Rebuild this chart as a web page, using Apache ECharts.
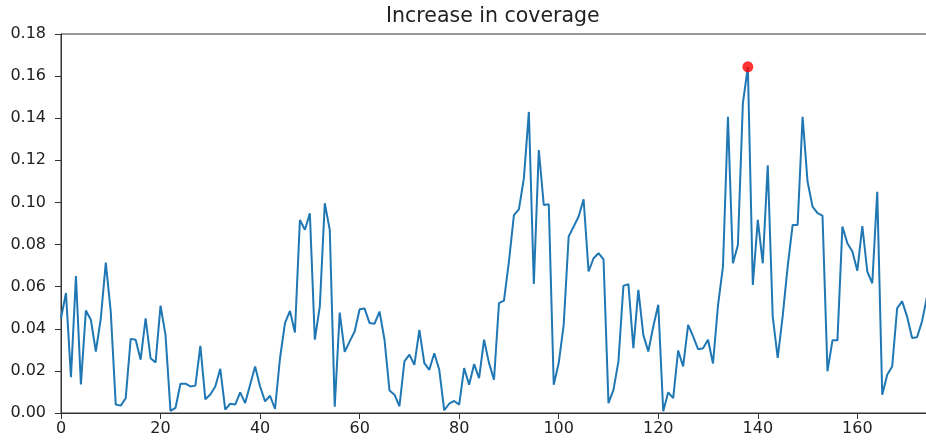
<!DOCTYPE html>
<html>
<head>
<meta charset="utf-8">
<script src="https://cdn.jsdelivr.net/npm/echarts@6/dist/echarts.min.js"></script>
<style>
  html, body { margin: 0; padding: 0; background: #fff; }
  #chart { width: 926px; height: 443px; }
</style>
</head>
<body>
<div id="chart"></div>
<script>
// Coverage gain per step
const steps = Array.from({ length: 175 }, (_, i) => i);
const coverageGain = [
  0.045, 0.057, 0.017, 0.065, 0.0136, 0.0487, 0.0443, 0.0292, 0.045, 0.0714,
  0.048, 0.004, 0.0035, 0.007, 0.0352, 0.0348, 0.0253, 0.045, 0.026, 0.024,
  0.051, 0.037, 0.001, 0.0024, 0.0139, 0.0139, 0.0126, 0.013, 0.0319, 0.0065,
  0.0088, 0.0126, 0.021, 0.0016, 0.0044, 0.004, 0.0098, 0.0047, 0.0134, 0.0221,
  0.0126, 0.0055, 0.0082, 0.0019, 0.026, 0.0427, 0.0485, 0.0382, 0.0917, 0.087,
  0.0948, 0.0348, 0.0506, 0.0996, 0.087, 0.003, 0.0477, 0.029, 0.034, 0.0387,
  0.0493, 0.0496, 0.0427, 0.0424, 0.0482, 0.0348, 0.0107, 0.0087, 0.0032, 0.0245,
  0.0277, 0.0229, 0.0395, 0.0237, 0.0205, 0.0284, 0.0205, 0.0013, 0.0044, 0.0057,
  0.004, 0.0213, 0.0134, 0.0232, 0.0166, 0.0348, 0.0237, 0.0158, 0.0522, 0.0534,
  0.072, 0.094, 0.0967, 0.1114, 0.143, 0.0613, 0.1249, 0.0988, 0.0991, 0.0134,
  0.0237, 0.0419, 0.0838, 0.0885, 0.0933, 0.1015, 0.0672, 0.0735, 0.0759, 0.073,
  0.0047, 0.011, 0.0245, 0.0604, 0.0612, 0.0308, 0.0585, 0.0371, 0.0292, 0.0411,
  0.0514, 0.0008, 0.0098, 0.0071, 0.0297, 0.0221, 0.0419, 0.0364, 0.0303, 0.0308,
  0.0348, 0.0235, 0.051, 0.0695, 0.1407, 0.0711, 0.0798, 0.147, 0.1644, 0.0608,
  0.0917, 0.0711, 0.1177, 0.0458, 0.0262, 0.046, 0.0695, 0.0893, 0.0893, 0.1407,
  0.1098, 0.098, 0.0949, 0.0937, 0.0198, 0.0345, 0.0345, 0.0885, 0.0806, 0.0767,
  0.0676, 0.0888, 0.0672, 0.0616, 0.1051, 0.0087, 0.0182, 0.0221, 0.0498, 0.053,
  0.0458, 0.0356, 0.036, 0.0435, 0.0553
];
const yTicks = [0, 0.02, 0.04, 0.06, 0.08, 0.10, 0.12, 0.14, 0.16, 0.18];
const xTicks = [0, 20, 40, 60, 80, 100, 120, 140, 160];

// Highest gain gets highlighted
let bestIdx = 0;
coverageGain.forEach((v, i) => { if (v > coverageGain[bestIdx]) bestIdx = i; });

const font = 'DejaVu Sans';
const axisColor = '#333';

const chart = echarts.init(document.getElementById('chart'), null, { renderer: 'canvas' });
chart.setOption({
  animation: false,
  backgroundColor: '#fff',
  title: {
    text: 'Increase in coverage',
    left: 386,
    top: 6,
    padding: 0,
    textStyle: { fontFamily: font, fontSize: 20.5, fontWeight: 'normal', color: '#222' }
  },
  grid: {
    left: 61, top: 34, width: 871, height: 379,
    outerBoundsMode: 'none',
    containLabel: false,
    show: true, borderColor: axisColor, borderWidth: 1, backgroundColor: 'transparent'
  },
  xAxis: {
    type: 'value',
    min: 0, max: 175, interval: 20,
    splitLine: { show: false },
    axisLine: { show: true, lineStyle: { color: axisColor, width: 1 } },
    axisTick: { show: true, inside: false, length: 6, lineStyle: { color: axisColor } },
    axisLabel: {
      show: true, margin: 8, showMaxLabel: false,
      fontFamily: font, fontSize: 16, color: '#222',
      formatter: v => (xTicks.includes(v) ? String(v) : '')
    }
  },
  yAxis: {
    type: 'value',
    min: yTicks[0], max: yTicks[yTicks.length - 1], interval: 0.02,
    splitLine: { show: false },
    axisLine: { show: true, lineStyle: { color: axisColor, width: 1 } },
    axisTick: { show: true, inside: false, length: 6, lineStyle: { color: axisColor } },
    axisLabel: {
      show: true, margin: 15,
      fontFamily: font, fontSize: 16, color: '#222',
      formatter: v => v.toFixed(2)
    }
  },
  series: [
    {
      type: 'line',
      data: steps.map((s, i) => [s, coverageGain[i]]),
      showSymbol: false,
      lineStyle: { color: '#1f77b4', width: 2 },
      itemStyle: { color: '#1f77b4' },
      z: 2
    },
    {
      type: 'scatter',
      data: [[steps[bestIdx], coverageGain[bestIdx]]],
      symbol: 'circle',
      symbolSize: 11,
      itemStyle: { color: '#ff0000' },
      z: 3
    }
  ]
});
</script>
</body>
</html>
